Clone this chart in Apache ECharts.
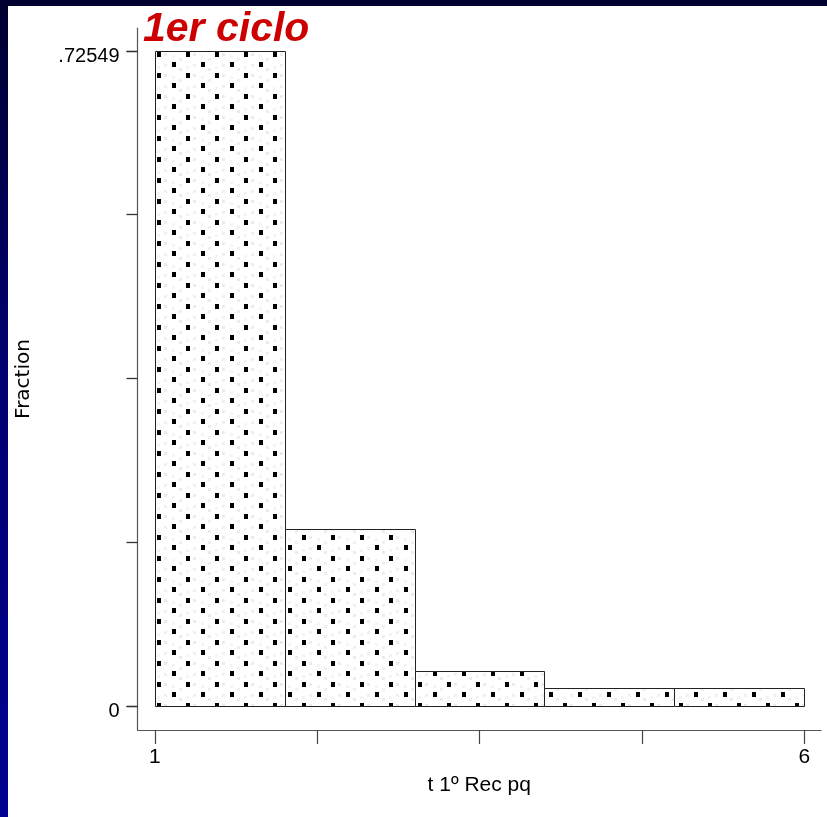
<!DOCTYPE html>
<html>
<head>
<meta charset="utf-8">
<script src="https://cdn.jsdelivr.net/npm/echarts@6/dist/echarts.min.js"></script>
<style>
  html, body { margin: 0; padding: 0; width: 827px; height: 817px; overflow: hidden; }
  body { background: linear-gradient(to bottom, #000030 0%, #000070 45%, #000090 100%); position: relative; }
  #paper { position: absolute; left: 8px; top: 6px; right: 0; bottom: 0; background: #ffffff; }
  #chart { position: absolute; left: 0; top: 0; width: 827px; height: 817px; }
</style>
</head>
<body>
<div id="paper"></div>
<div id="chart"></div>
<script>
// ---- data ----
const binStarts = [1, 2, 3, 4, 5];
const binEnds   = [2, 3, 4, 5, 6];
const fractions = [0.72549, 0.19608, 0.03922, 0.01961, 0.01961];
const xTickValues  = [1, 2.25, 3.5, 4.75, 6];
const xLabelValues = [1, 6];
const yTickValues  = [0, 0.1813725, 0.362745, 0.5441175, 0.72549];
const yLabelValues = [0, 0.72549];
const yLabelText   = ['0', '.72549'];

// ---- dot pattern ----
function makePattern() {
  const w = 29, h = 21;
  const c = document.createElement('canvas');
  c.width = w; c.height = h;
  const g = c.getContext('2d');
  g.fillStyle = '#ffffff';
  g.fillRect(0, 0, w, h);
  const ox = 157 % w, oy = 52 % h;
  function rect(x, y, rw, rh, col) {
    g.fillStyle = col;
    for (const dx of [-w, 0, w]) for (const dy of [-h, 0, h]) g.fillRect(x + dx, y + dy, rw, rh);
  }
  // faint grey checker
  rect(ox + 7, oy + 1, 3, 3, '#ececec');
  rect(ox + 22, oy + 6, 3, 3, '#f0f0f0');
  rect(ox + 7, oy + 12, 3, 3, '#f0f0f0');
  rect(ox + 22, oy + 16, 3, 3, '#ececec');
  rect(ox + 15, oy + 3, 3, 3, '#f4f4f4');
  rect(ox, oy + 14, 3, 3, '#f4f4f4');
  // black dots
  rect(ox, oy, 4, 5, '#000000');
  rect(ox + 15, oy + 10, 4, 5, '#000000');
  return c;
}
const pattern = { image: makePattern(), repeat: 'repeat' };

const sans = "'Liberation Sans', Arial, sans-serif";
const X_MIN = 0.8668, X_MAX = 6.1286;
const Y_MIN = -0.026583, Y_MAX = 0.750965;
const TICK_LEN_Y = 11;

const chart = echarts.init(document.getElementById('chart'), null, { renderer: 'canvas' });
chart.setOption({
  backgroundColor: 'transparent',
  animation: false,
  title: {
    text: '1er ciclo',
    left: 138,
    top: 4,
    textStyle: { color: '#cc0000', fontSize: 41, fontWeight: 'bold', fontStyle: 'italic', fontFamily: sans }
  },
  grid: { left: 137.5, top: 28, width: 683.5, height: 702, containLabel: false, outerBoundsMode: 'none' },
  xAxis: {
    type: 'value',
    min: X_MIN, max: X_MAX,
    splitLine: { show: false },
    axisLine: { show: true, onZero: false, lineStyle: { color: '#555', width: 1.2 } },
    axisTick: { show: true, length: 14, customValues: xTickValues, lineStyle: { color: '#444', width: 1.2 } },
    axisLabel: { show: true, customValues: xLabelValues, margin: 17, color: '#000', fontSize: 21, fontFamily: sans,
                 formatter: v => String(Math.round(v)) },
    name: 't 1º Rec pq',
    nameLocation: 'middle',
    nameGap: 45,
    nameTextStyle: { color: '#000', fontSize: 21, fontFamily: sans }
  },
  yAxis: {
    type: 'value',
    min: Y_MIN, max: Y_MAX,
    splitLine: { show: false },
    axisLine: { show: true, onZero: false, lineStyle: { color: '#555', width: 1.2 } },
    axisTick: { show: true, length: TICK_LEN_Y, customValues: yTickValues, lineStyle: { color: '#333', width: 1.3 } },
    axisLabel: { show: true, customValues: yLabelValues, margin: 18, color: '#000', fontSize: 20, fontFamily: sans,
                 verticalAlign: 'top', lineHeight: 10,
                 formatter: v => (Math.abs(v) < 1e-9 ? yLabelText[0] : yLabelText[1]) },
    name: 'Fraction',
    nameLocation: 'middle',
    nameRotate: 90,
    nameGap: 104,
    nameTextStyle: { color: '#000', fontSize: 20, fontFamily: "'DejaVu Sans', Verdana, sans-serif" }
  },
  series: [{
    type: 'custom',
    data: binStarts.map((s, i) => [s, binEnds[i], fractions[i]]),
    encode: { x: [0, 1], y: 2 },
    renderItem: function (params, api) {
      const p0 = api.coord([api.value(0), api.value(2)]);
      const p1 = api.coord([api.value(1), 0]);
      return {
        type: 'rect',
        shape: { x: Math.round(p0[0]) + 0.5, y: Math.round(p0[1]) + 0.5, width: Math.round(p1[0]) - Math.round(p0[0]), height: Math.round(p1[1]) - Math.round(p0[1]) },
        style: { fill: pattern, stroke: '#222', lineWidth: 1 }
      };
    }
  }, {
    // ticks at the labelled ends of the y axis (re-drawn so they are always visible)
    type: 'custom',
    clip: false,
    silent: true,
    data: yLabelValues.map(v => [X_MIN, v]),
    encode: { x: 0, y: 1 },
    renderItem: function (params, api) {
      const p = api.coord([api.value(0), api.value(1)]);
      const y = Math.round(p[1]) + 0.5;
      return {
        type: 'line',
        shape: { x1: p[0] - TICK_LEN_Y, y1: y, x2: p[0], y2: y },
        style: { stroke: '#333', lineWidth: 1.3 }
      };
    }
  }]
});
</script>
</body>
</html>
